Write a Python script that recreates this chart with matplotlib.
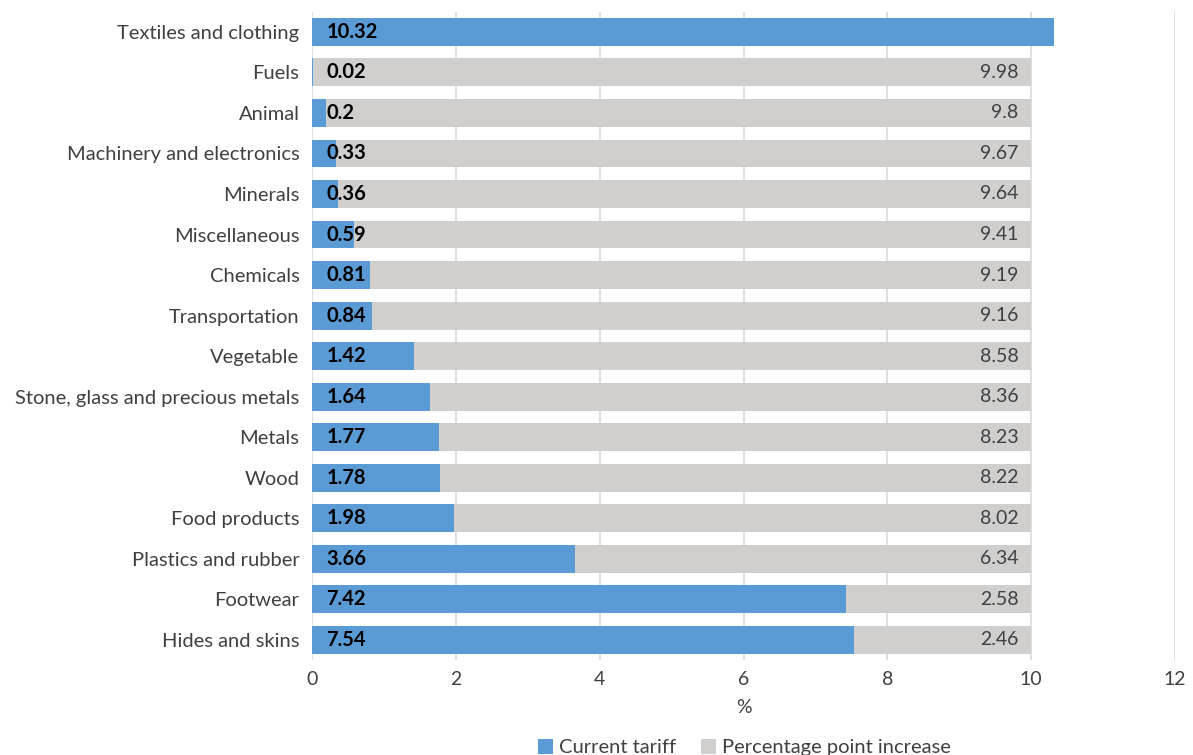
import numpy as np
import matplotlib.pyplot as plt
import matplotlib

matplotlib.rcParams.update({'font.family': ['Lato', 'DejaVu Sans'], 'font.size': 14.5})

categories = ['Textiles and clothing', 'Fuels', 'Animal', 'Machinery and electronics',
              'Minerals', 'Miscellaneous', 'Chemicals', 'Transportation', 'Vegetable',
              'Stone, glass and precious metals', 'Metals', 'Wood', 'Food products',
              'Plastics and rubber', 'Footwear', 'Hides and skins']
current = [10.32, 0.02, 0.2, 0.33, 0.36, 0.59, 0.81, 0.84, 1.42, 1.64, 1.77, 1.78,
           1.98, 3.66, 7.42, 7.54]
increase = [0, 9.98, 9.8, 9.67, 9.64, 9.41, 9.19, 9.16, 8.58, 8.36, 8.23, 8.22,
            8.02, 6.34, 2.58, 2.46]

blue = '#5b9bd5'
grey = '#d0cfce'
text_col = '#404040'

fig = plt.figure(figsize=(11.93, 7.55), dpi=100)
ax = fig.add_axes([0.2615, 0.126, 0.7235, 0.8585])

y = np.arange(len(categories))
ax.barh(y, current, height=0.69, color=blue, label='Current tariff', zorder=2)
ax.barh(y, increase, left=current, height=0.69, color=grey,
        label='Percentage point increase', zorder=2)

# value labels: current tariff in bold near the axis, increase at the bar end
for i in range(len(categories)):
    ax.text(0.2, y[i], f'{current[i]:g}', ha='left', va='center', fontsize=14.5,
            fontweight='bold', color='black', zorder=3)
    if increase[i] > 0:
        ax.text(current[i] + increase[i] - 0.18, y[i], f'{increase[i]:g}', ha='right',
                va='center', fontsize=14, color=text_col, zorder=3)

ax.set_yticks(y)
ax.set_yticklabels(categories, color=text_col)
ax.set_ylim(len(categories) - 0.5, -0.5)
ax.set_xlim(0, 12)
ax.set_xticks(np.arange(0, 13, 2))
ax.tick_params(axis='x', colors=text_col, length=0, pad=8, labelsize=14)
ax.tick_params(axis='y', length=0, pad=9)
ax.grid(axis='x', color='#d9d9d9', linewidth=1.2, zorder=0)
for s in ax.spines.values():
    s.set_visible(False)
ax.set_xlabel('%', color=text_col, labelpad=8, fontsize=14)

fig.legend(loc='center', bbox_to_anchor=(0.624, 0.01), ncol=2, frameon=False,
           handlelength=0.75, handleheight=0.75, handletextpad=0.3, columnspacing=1.2,
           labelcolor=text_col, fontsize=14.5)

fig.savefig('out.png', dpi=100)
